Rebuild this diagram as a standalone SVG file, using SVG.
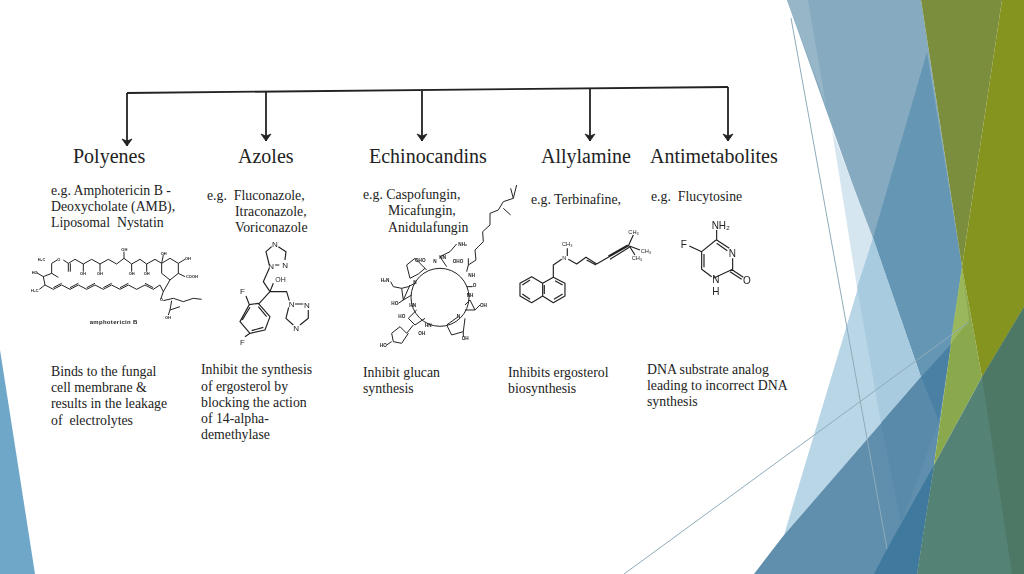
<svg xmlns="http://www.w3.org/2000/svg" width="1024" height="574" viewBox="0 0 1024 574">
<style>
.t{font-family:"Liberation Serif","Times New Roman",serif;fill:#222}
.h{font-size:20px}
.b{font-size:13.8px}
.m{fill:none;stroke:#222;stroke-width:3.500;stroke-linejoin:round}
.l{font-family:"Liberation Sans",Arial,sans-serif;fill:#222}
.thin{fill:none;stroke:#8fabba;stroke-width:1}
.c{fill:none;stroke:#222;stroke-width:1.800}
</style>
<defs>
<marker id="a" markerWidth="12" markerHeight="12" refX="10" refY="6" orient="auto" markerUnits="userSpaceOnUse" viewBox="0 0 12 12"><path d="M3 1L10 6L3 11L5 6Z" fill="#222" stroke="#222" stroke-width=".8"/></marker>
<filter id="s" x="-5%" y="-5%" width="110%" height="110%"><feGaussianBlur stdDeviation=".35"/></filter>
</defs>
<rect width="1024" height="574" fill="#fff"/>
<g id="background">
<path d="M0 350L35 574H0Z" fill="#6fa7c9"/>
<path d="M787 0H921L962 267L951 344L921 377Z" fill="#86aac0"/>
<path d="M787 0H808L826 105Z" fill="#97b6c8"/>
<path d="M927 52L962 267L951 344L921 377L873 238Z" fill="#6597b5"/>
<path d="M832 130L873 238L857 287Z" fill="#d6e6f0"/>
<path d="M873 238L921 377L784 535Z" fill="#b9d6e7"/>
<path d="M857 287L873 238L921 377L881 423Z" fill="#a9cbe0"/>
<path d="M921 377L951 344L934 465L917 574H754L784 535Z" fill="#5f8fad"/>
<path d="M881 423L921 377L939 421L901 523Z" fill="#5a8aaa"/>
<path d="M921 377L951 344L939 421Z" fill="#4a80a4"/>
<path d="M934 465L917 574H874L887 549Z" fill="#3f7a9e"/>
<path d="M951 344L962 267L982 377L934 465Z" fill="#8aa94c"/>
<path d="M962 267L969 320L950 345Z" fill="#a1bd62" opacity=".7"/>
<path d="M921 0H1002L962 267Z" fill="#7b8e3e"/>
<path d="M1002 0H1024V307L982 377L962 267Z" fill="#85931f"/>
<path d="M1024 307V574H917L934 465L982 377Z" fill="#548275"/>
<path d="M982 377L1024 307V574H1012Z" fill="#4d7866"/>
<path d="M791 18L887 549" class="thin"/>
<path d="M624 574L969 322" class="thin"/>
</g>
<g id="connectors">
<path d="M127 93L728 87" class="c"/>
<path d="M127 93V146" class="c" marker-end="url(#a)"/>
<path d="M266 92V141" class="c" marker-end="url(#a)"/>
<path d="M422 91V141" class="c" marker-end="url(#a)"/>
<path d="M590 89V141" class="c" marker-end="url(#a)"/>
<path d="M728 87V141" class="c" marker-end="url(#a)"/>
</g>
<g id="polyenes">
<text class="t h" x="73" y="163">Polyenes</text>
<text class="t b" x="51" y="195">e.g. Amphotericin B -</text>
<text class="t b" x="51" y="211">Deoxycholate (AMB),</text>
<text class="t b" x="51" y="227" xml:space="preserve">Liposomal  Nystatin</text>
<g transform="translate(0 170) scale(.3333)" filter="url(#s)">
<path class="m" style="stroke-width:3" d="M155 280L172 270M190 270L205 280L225 268L250 282L275 268L300 282L325 268L350 282L372 265L395 282L420 268L440 282L465 268L485 280L510 265L535 280L535 310L510 330L485 310V280M205 280V305M211 280V305M250 282V305M300 282V305M372 265V245M395 282V305M440 282V305M485 280L490 255M535 310L555 320M535 280L555 268M155 280V310L130 320L135 345L118 358M130 320L110 308M155 310L175 322M135 345L160 358L185 345L210 358L235 345L260 358L285 345L310 358L335 345L360 358L385 345L410 358L435 345L460 358L480 345L490 365L510 330M160 353L185 340M210 353L235 340M260 353L285 340M310 353L335 340M360 353L385 340M435 340L460 353M490 365L482 388M490 392L520 385L550 395L580 385L605 388M515 392L510 420L540 410M510 420L505 435"/>
<g class="l" font-size="12" font-weight="700">
<text x="113" y="272">H₃C</text><text x="95" y="312">HO</text><text x="93" y="366">H₃C</text><text x="364" y="243">OH</text><text x="240" y="314">OH</text><text x="291" y="314">OH</text><text x="386" y="314">OH</text><text x="431" y="314">OH</text><text x="555" y="270">OH</text><text x="558" y="325">COOH</text><text x="482" y="255">OH</text><text x="172" y="272">O</text><text x="480" y="394">O</text><text x="495" y="448">OH</text>
</g>
<text class="l" x="269" y="463" font-size="18" font-weight="700" fill="#444" textLength="143">amphotericin B</text>
</g>
</g>
<g id="azoles">
<text class="t h" x="238" y="163">Azoles</text>
<text class="t b" x="207" y="200" xml:space="preserve">e.g.  Fluconazole,</text>
<text class="t b" x="235" y="216">Itraconazole,</text>
<text class="t b" x="235" y="232">Voriconazole</text>
<g transform="translate(0 170) scale(.3333)" filter="url(#s)">
<path class="m" d="M815 230L798 245L808 285M835 230L858 245L855 270M825 285H838M808 295L790 335L810 365L860 365L868 392M810 365L820 340M810 365L775 403M885 402H910M925 420L925 445L900 465M880 465L858 445L866 412M738 378L748 404L775 400L810 440L795 480L750 490L720 455L748 404M775 410L800 440M790 472L755 482M727 450L750 412M735 500L750 490"/>
<g class="l" font-size="24">
<text x="816" y="231">N</text><text x="847" y="294">N</text><text x="805" y="297">N</text><text x="826" y="337" font-size="21">OH</text><text x="720" y="372">F</text><text x="866" y="410">N</text><text x="912" y="415">N</text><text x="880" y="482">N</text><text x="720" y="524">F</text>
</g>
</g>
</g>
<g id="echinocandins">
<text class="t h" x="369" y="163">Echinocandins</text>
<text class="t b" x="363" y="199">e.g. Caspofungin,</text>
<text class="t b" x="388" y="215">Micafungin,</text>
<text class="t b" x="388" y="232">Anidulafungin</text>
<g transform="translate(350 170) scale(.3333)" filter="url(#s)">
<circle class="m" style="stroke-width:3" cx="270" cy="382" r="87"/>
<path class="m" style="stroke-width:3" d="M355 285L378 270L375 240L400 215L398 185L420 165L420 130L445 120L460 95L490 85L500 45M490 85L482 55M460 115L482 135M355 285L350 305M355 285V265M290 290L270 260L300 245L320 222M230 300L195 265L170 285L180 325L205 312L225 295M195 340L175 350L155 355L130 350L122 335M155 355L160 390L185 375M180 345L160 390M160 390L145 400M200 420L175 445L195 465L225 445M190 465L170 490L150 470L125 490L130 515L155 520L175 490M125 515L110 525M325 440L290 465L305 495L340 485L345 445M340 485V500M345 420L375 420L360 390L345 405M375 420L390 405M350 350H368"/>
<g class="l" font-size="14" font-weight="700">
<text x="325" y="227">NH₂</text><text x="92" y="335">H₂N</text><text x="124" y="404">HO</text><text x="145" y="443">HO</text><text x="205" y="494">OH</text><text x="90" y="530">HO</text><text x="335" y="510">OH</text><text x="390" y="410">OH</text><text x="355" y="322">NH</text><text x="368" y="350">O</text><text x="350" y="382">NH</text><text x="190" y="342">N</text><text x="178" y="410">HN</text><text x="225" y="472">HN</text><text x="320" y="444">N</text><text x="195" y="275">OHO</text><text x="308" y="278">OHO</text><text x="250" y="278">N</text><text x="268" y="268">HN</text>
</g>
</g>
</g>
<g id="allylamine">
<text class="t h" x="541" y="163">Allylamine</text>
<text class="t b" x="531" y="204">e.g. Terbinafine,</text>
<g transform="translate(350 170) scale(.3333)" filter="url(#s)">
<path class="m" d="M610 322V285L635 268M652 258V235M655 268L680 282L708 262L740 282L775 262L835 228L850 195M710 270L738 285M775 258L833 225M780 268L838 232M838 228L870 240M838 228L855 255M610 322L645 340V378L610 398L578 378V340L610 322M578 340L545 320L510 340V378L545 398L578 378M615 332L638 345M638 372L612 388M583 345V372M540 330L517 345M517 372L540 388"/>
<g class="l" font-size="17"><text x="636" y="228">CH₃</text><text x="637" y="269">N</text><text x="835" y="192">CH₃</text><text x="872" y="250">CH₃</text><text x="845" y="270">CH₃</text></g>
</g>
</g>
<g id="antimetabolites">
<text class="t h" x="650" y="163">Antimetabolites</text>
<text class="t b" x="651" y="201" xml:space="preserve">e.g.  Flucytosine</text>
<g transform="translate(640 180) scale(.3333)" filter="url(#s)">
<path class="m" d="M230 150V180L268 205M230 190L262 212M278 235V268L220 295M274 268L310 292M270 275L305 298M228 180L185 215V268L215 290M192 222V262M185 215L148 198"/>
<g class="l" font-size="30"><text x="215" y="147">NH₂</text><text x="122" y="205">F</text><text x="266" y="232">N</text><text x="309" y="312">O</text><text x="217" y="308">N</text><text x="217" y="345">H</text></g>
</g>
</g>
<g id="descriptions">
<text class="t b" x="51" y="376">Binds to the fungal</text>
<text class="t b" x="51" y="392">cell membrane &amp;</text>
<text class="t b" x="51" y="408">results in the leakage</text>
<text class="t b" x="51" y="425" xml:space="preserve">of  electrolytes</text>
<text class="t b" x="201" y="374">Inhibit the synthesis</text>
<text class="t b" x="201" y="391">of ergosterol by</text>
<text class="t b" x="201" y="407">blocking the action</text>
<text class="t b" x="201" y="423">of 14-alpha-</text>
<text class="t b" x="201" y="439">demethylase</text>
<text class="t b" x="363" y="377">Inhibit glucan</text>
<text class="t b" x="363" y="393">synthesis</text>
<text class="t b" x="508" y="377">Inhibits ergosterol</text>
<text class="t b" x="508" y="393">biosynthesis</text>
<text class="t b" x="647" y="374">DNA substrate analog</text>
<text class="t b" x="647" y="390">leading to incorrect DNA</text>
<text class="t b" x="647" y="406">synthesis</text>
</g>
</svg>
